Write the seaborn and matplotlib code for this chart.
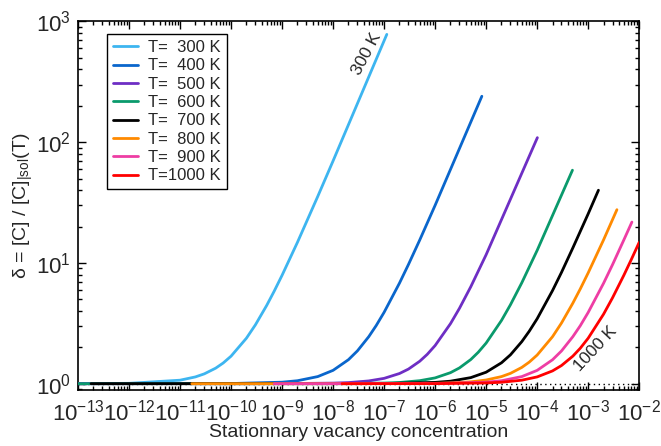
import numpy as np
import pandas as pd
import matplotlib
matplotlib.use("Agg")
import matplotlib.pyplot as plt
import seaborn as sns
from matplotlib.ticker import LogLocator, LogFormatterMathtext, NullFormatter

# ---- data ----
labels = ["T=  300 K", "T=  400 K", "T=  500 K", "T=  600 K",
          "T=  700 K", "T=  800 K", "T=  900 K", "T=1000 K"]
colors = ["#3DB5F0", "#0A66CC", "#6E2EC4", "#0A9A6C",
          "#000000", "#FF8A00", "#EE3DA4", "#FF0000"]

x_300 = [1e-13, 1e-12, 1e-11, 2e-11, 3e-11, 5e-11, 7e-11, 1e-10, 2e-10, 3e-10,
         5e-10, 7e-10, 1e-9, 2e-9, 5e-9, 1e-8, 1.13e-7]
y_300 = [1.0, 1.007, 1.069, 1.138, 1.207, 1.345, 1.483, 1.69, 2.38, 3.07,
         4.45, 5.83, 7.9, 14.8, 35.5, 70, 781]

x_400 = [1e-13, 1e-10, 1e-9, 2e-9, 5e-9, 1e-8, 2e-8, 3e-8, 5e-8, 7e-8,
         1e-7, 2e-7, 3e-7, 5e-7, 1e-6, 8.24e-6]
y_400 = [1.0, 1.003, 1.029, 1.058, 1.145, 1.29, 1.58, 1.87, 2.45, 3.03,
         3.9, 6.8, 9.7, 15.5, 30, 240]

x_500 = [1e-13, 1e-9, 1e-8, 2e-8, 5e-8, 1e-7, 2e-7, 3e-7, 5e-7, 7e-7,
         1e-6, 2e-6, 3e-6, 5e-6, 1e-5, 1.01e-4]
y_500 = [1.0, 1.001, 1.011, 1.021, 1.054, 1.107, 1.214, 1.321, 1.535, 1.749,
         2.07, 3.14, 4.21, 6.35, 11.7, 109]

x_600 = [1e-13, 1e-8, 1e-7, 2e-7, 5e-7, 1e-6, 2e-6, 3e-6, 5e-6, 7e-6,
         1e-5, 2e-5, 3e-5, 5e-5, 1e-4, 4.92e-4]
y_600 = [1.0, 1.001, 1.012, 1.023, 1.059, 1.117, 1.234, 1.351, 1.585, 1.82,
         2.17, 3.34, 4.51, 6.85, 12.7, 58.6]

x_700 = [1.8e-13, 1e-8, 1e-7, 1e-6, 2e-6, 5e-6, 1e-5, 2e-5, 3e-5, 5e-5,
         7e-5, 1e-4, 2e-4, 3e-4, 5e-4, 1e-3, 1.59e-3]
y_700 = [1.0, 1.0, 1.002, 1.025, 1.049, 1.123, 1.245, 1.49, 1.735, 2.23,
         2.72, 3.45, 5.9, 8.35, 13.3, 25.5, 40]

x_800 = [1.7e-11, 1e-7, 1e-6, 2e-6, 5e-6, 1e-5, 2e-5, 3e-5, 5e-5, 7e-5,
         1e-4, 2e-4, 3e-4, 5e-4, 7e-4, 1e-3, 2e-3, 3.66e-3]
y_800 = [1.0, 1.001, 1.007, 1.015, 1.036, 1.073, 1.145, 1.218, 1.364, 1.509,
         1.727, 2.45, 3.18, 4.64, 6.09, 8.27, 15.5, 27.6]

x_900 = [7e-10, 1e-6, 1e-5, 2e-5, 5e-5, 1e-4, 2e-4, 3e-4, 5e-4, 7e-4,
         1e-3, 2e-3, 3e-3, 5e-3, 7.2e-3]
y_900 = [1.0, 1.003, 1.029, 1.058, 1.145, 1.289, 1.578, 1.867, 2.45, 3.02,
         3.89, 6.78, 9.67, 15.5, 21.8]

x_1000 = [1.5e-8, 1e-6, 1e-5, 2e-5, 5e-5, 1e-4, 2e-4, 3e-4, 5e-4, 7e-4,
          1e-3, 2e-3, 3e-3, 5e-3, 7e-3, 1e-2]
y_1000 = [1.0, 1.001, 1.014, 1.028, 1.069, 1.138, 1.276, 1.414, 1.69, 1.966,
          2.38, 3.76, 5.14, 7.9, 10.66, 14.8]

baseline = 1.0
xs = [x_300, x_400, x_500, x_600, x_700, x_800, x_900, x_1000]
ys = [y_300, y_400, y_500, y_600, y_700, y_800, y_900, y_1000]

# ---- style ----
sns.set_style("ticks")
plt.rcParams["font.family"] = ["Liberation Sans", "DejaVu Sans"]
plt.rcParams["mathtext.fontset"] = "custom"
plt.rcParams["mathtext.rm"] = "Liberation Sans"
plt.rcParams["mathtext.it"] = "Liberation Sans:italic"
plt.rcParams["mathtext.bf"] = "Liberation Sans:bold"
plt.rcParams["axes.unicode_minus"] = False

fig = plt.figure(figsize=(6.61, 4.46), dpi=100)
ax = fig.add_axes([0.118, 0.126, 0.849, 0.826])

ax.axhline(baseline, color="black", lw=1.0, ls=(0, (1, 2.5)), zorder=1)

for lab, col, x, y in zip(labels, colors, xs, ys):
    df = pd.DataFrame({"c": x, "delta": y})
    sns.lineplot(data=df, x="c", y="delta", color=col, lw=2.0,
                 label=lab, ax=ax, zorder=3)

ax.set_xscale("log")
ax.set_yscale("log")
ax.set_xlim(1e-13, 1e-2)
ax.set_ylim(0.89, 1000)

ax.xaxis.set_major_locator(LogLocator(base=10, numticks=30))
ax.xaxis.set_minor_locator(LogLocator(base=10, subs=np.arange(2, 10), numticks=30))
ax.yaxis.set_major_locator(LogLocator(base=10, numticks=30))
ax.yaxis.set_minor_locator(LogLocator(base=10, subs=np.arange(2, 10), numticks=30))
ax.xaxis.set_major_formatter(LogFormatterMathtext())
ax.yaxis.set_major_formatter(LogFormatterMathtext())
ax.xaxis.set_minor_formatter(NullFormatter())
ax.yaxis.set_minor_formatter(NullFormatter())

ax.tick_params(which="both", direction="in", top=True, right=True,
               color="black", width=1.0)
ax.tick_params(which="major", length=6, labelsize=16)
ax.tick_params(which="minor", length=3)
ax.tick_params(axis="x", which="major", pad=7)
ax.tick_params(axis="y", which="major", pad=5)
for sp in ax.spines.values():
    sp.set_linewidth(1.2)
    sp.set_color("black")
    sp.set_visible(True)

ax.set_xlabel("Stationnary vacancy concentration", fontsize=14, labelpad=-1)
ax.set_ylabel("δ = [C] / [C]$_{\\mathrm{|sol}}$(T)", fontsize=14, labelpad=1)

leg = ax.legend(loc="upper left", bbox_to_anchor=(0.052, 0.965), fontsize=12,
                frameon=True, fancybox=False, framealpha=1, edgecolor="black",
                handlelength=1.5, handletextpad=0.6, labelspacing=0.2,
                borderpad=0.35, borderaxespad=0)
leg.get_frame().set_linewidth(1.0)

ax.text(4.6e-8, 533, "300 K", rotation=62, fontsize=12.5,
        ha="center", va="center", rotation_mode="anchor")
ax.text(1.37e-3, 1.95, "1000 K", rotation=47, fontsize=12.5,
        ha="center", va="center", rotation_mode="anchor")

fig.savefig("out.png", dpi=100)
